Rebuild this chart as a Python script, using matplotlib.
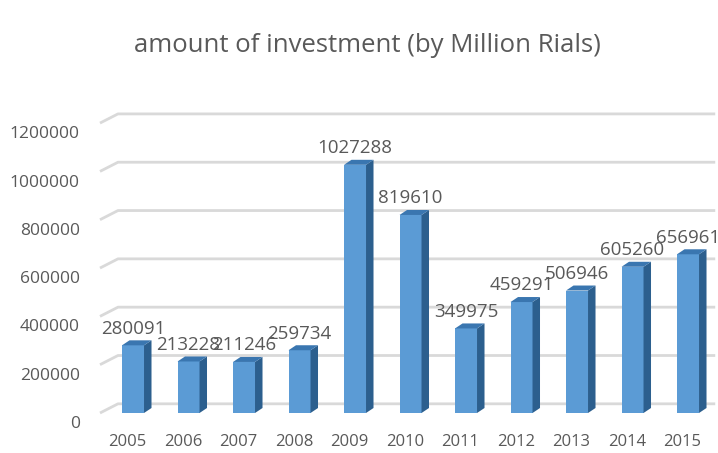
import numpy as np
import matplotlib
matplotlib.use("Agg")
import matplotlib.pyplot as plt
from matplotlib.patches import Polygon

years = ["2005", "2006", "2007", "2008", "2009", "2010", "2011", "2012", "2013", "2014", "2015"]
investment = [280091, 213228, 211246, 259734, 1027288, 819610, 349975, 459291, 506946, 605260, 656961]
yticks = [0, 200000, 400000, 600000, 800000, 1000000, 1200000]

plt.rcParams['font.family'] = ['Open Sans', 'DejaVu Sans']
txt_col = '#595959'
front_col = '#5b9bd5'
side_col = '#2c5f8e'
top_col = '#3a76b0'
grid_col = '#d9d9d9'

fig = plt.figure(figsize=(7.18, 4.53), dpi=100)
W, H = 718, 453
# axes box: front floor at y=413px, value 1250000 at y=111px
ax = fig.add_axes([100 / W, (H - 413) / H, 618 / W, 302 / H])
ax.set_ylim(0, 1250000)
ax.set_xlim(-0.595, 10.54)
ax.set_axis_off()

x = np.arange(len(years))
bw = 0.396          # front face width
ddx, ddy = 0.135, 20700     # bar depth offset
wdx, wdy = 0.324, 38000     # back wall offset

# back wall gridlines with the little diagonal on the left wall
x0, x1 = ax.get_xlim()
for v in yticks:
    ax.plot([x0, x0 + wdx, x1 - 0.05], [v, v + wdy, v + wdy], color=grid_col,
            lw=2, solid_capstyle='butt', clip_on=False, zorder=1)

# 3d-looking columns: front face plus side and top parallelograms
ax.bar(x, investment, width=bw, color=front_col, zorder=3)
for xi, v in zip(x, investment):
    r = xi + bw / 2
    l = xi - bw / 2
    side = Polygon([(r, 0), (r + ddx, ddy), (r + ddx, v + ddy), (r, v)],
                   closed=True, facecolor=side_col, edgecolor='none', zorder=3)
    top = Polygon([(l, v), (l + ddx, v + ddy), (r + ddx, v + ddy), (r, v)],
                  closed=True, facecolor=top_col, edgecolor='none', zorder=3)
    ax.add_patch(side)
    ax.add_patch(top)
    ax.annotate(str(v), (xi, v), xytext=(0, 12), textcoords='offset points',
                ha='center', va='center', fontsize=13.5, color=txt_col, zorder=4)

# value axis labels, sitting a bit below the front edge
for v in yticks:
    ax.annotate(str(v), (x0, v), xytext=(-14.5, -8), textcoords='offset points',
                ha='right', va='center', fontsize=12.5, color=txt_col,
                annotation_clip=False)

# year labels under the columns
for xi, y in zip(x, years):
    ax.annotate(y, (xi, 0), xytext=(-4, -21), textcoords='offset points',
                ha='center', va='center', fontsize=12, color=txt_col,
                annotation_clip=False)

fig.text(367 / W, 1 - 46 / H, "amount of investment (by Million Rials)",
         ha='center', va='center', fontsize=18.5, color=txt_col)

fig.savefig("out.png", dpi=100)
